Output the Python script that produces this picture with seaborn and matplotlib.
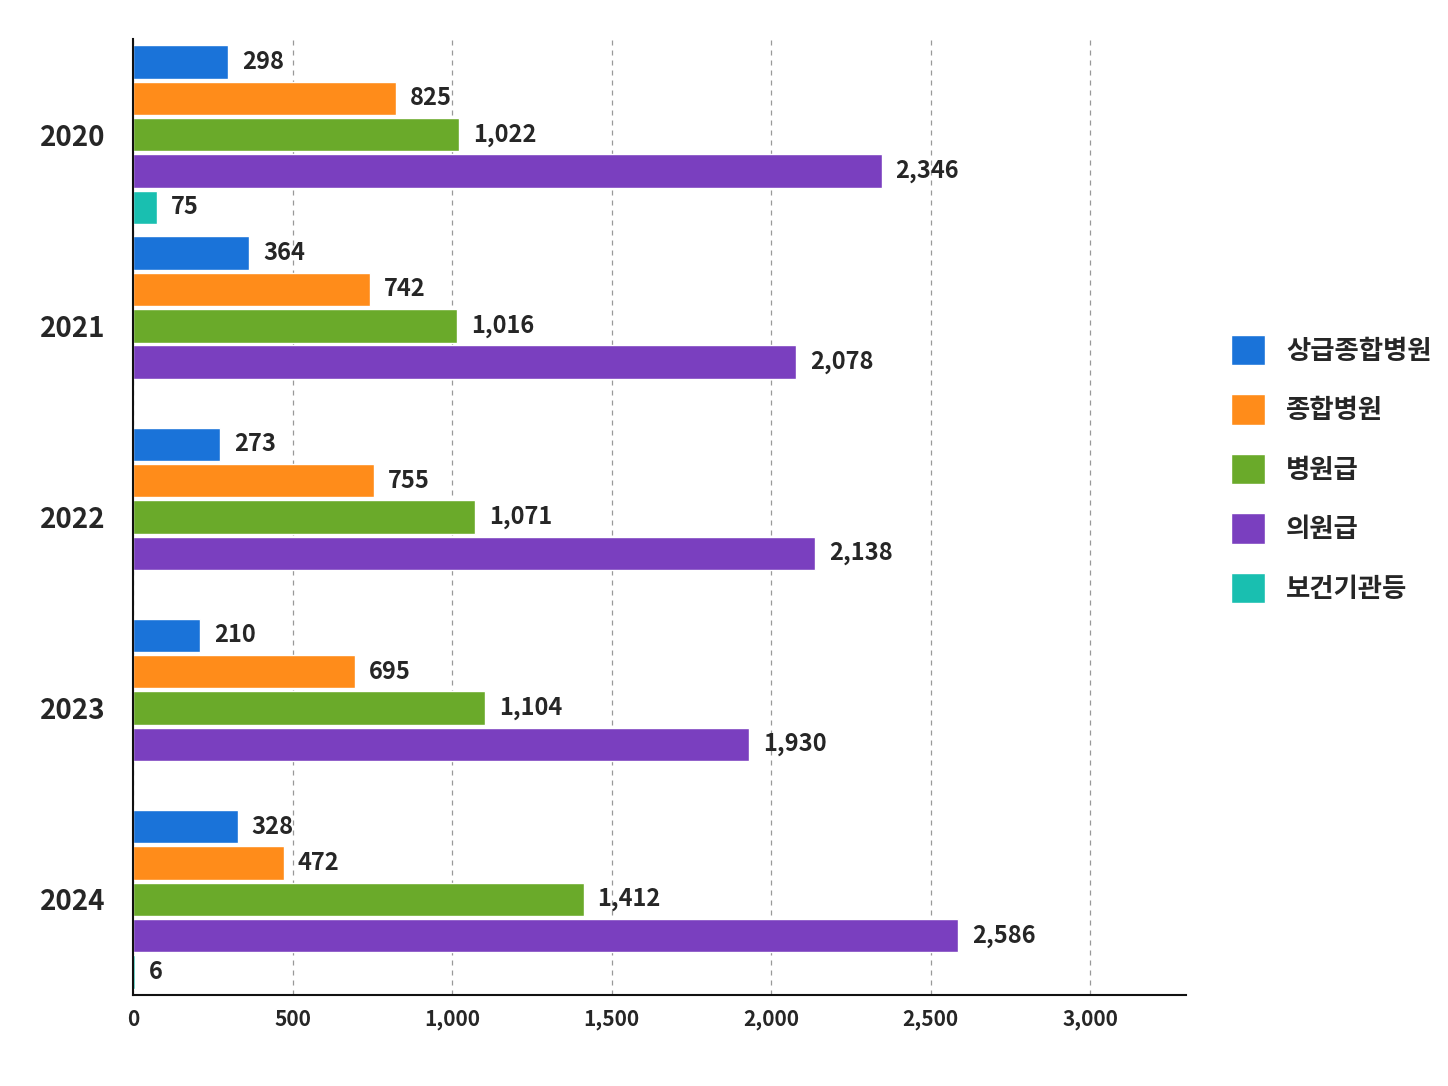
import numpy as np
import pandas as pd
import matplotlib
matplotlib.use("Agg")
import matplotlib.pyplot as plt
import seaborn as sns

years = ["2020", "2021", "2022", "2023", "2024"]
types = ["상급종합병원", "종합병원", "병원급", "의원급", "보건기관등"]
v_top = [298, 364, 273, 210, 328]
v_gen = [825, 742, 755, 695, 472]
v_hosp = [1022, 1016, 1071, 1104, 1412]
v_clinic = [2346, 2078, 2138, 1930, 2586]
v_public = [75, np.nan, np.nan, np.nan, 6]
colors = ["#1a73d9", "#ff8c1a", "#6aaa2a", "#7a3fbf", "#19bfb0"]

rows = []
for series, t in zip([v_top, v_gen, v_hosp, v_clinic, v_public], types):
    for y, v in zip(years, series):
        rows.append({"year": y, "type": t, "value": v})
df = pd.DataFrame(rows)

sns.set_theme(style="white")
plt.rcParams["font.family"] = ["Noto Sans CJK KR", "DejaVu Sans"]
plt.rcParams["font.weight"] = "bold"

fig = plt.figure(figsize=(14.48, 10.86), dpi=100)
ax = fig.add_axes([0.092, 0.084, 0.727, 0.88])
sns.barplot(data=df, y="year", x="value", hue="type", hue_order=types,
            order=years, palette=colors, saturation=1, orient="h", width=0.95, gap=0.08,
            ax=ax, legend=True)

for c in ax.containers:
    labels = ["" if np.isnan(v) else f"{v:,.0f}" for v in c.datavalues]
    ax.bar_label(c, labels=labels, padding=10, fontsize=17, fontweight="bold")

ax.set_xlim(0, 3300)
ax.set_xticks([0, 500, 1000, 1500, 2000, 2500, 3000])
ax.set_xticklabels(["0", "500", "1,000", "1,500", "2,000", "2,500", "3,000"], fontsize=15)
ax.tick_params(axis="y", labelsize=20, length=0, pad=20)
ax.tick_params(axis="x", length=0, pad=10)
ax.xaxis.grid(True, linestyle=(0, (4, 4)), color="#999999", linewidth=0.9)
ax.set_axisbelow(True)
for s in ["top", "right"]:
    ax.spines[s].set_visible(False)
for s in ["left", "bottom"]:
    ax.spines[s].set_color("#111111")
    ax.spines[s].set_linewidth(1.5)
ax.set_xlabel("")
ax.set_ylabel("")

leg = ax.legend(loc="center left", bbox_to_anchor=(1.02, 0.55), frameon=False,
                fontsize=19, handlelength=1.3, handleheight=1.4,
                labelspacing=1.1, handletextpad=0.8)

fig.savefig("out.png", dpi=100, facecolor="white")
